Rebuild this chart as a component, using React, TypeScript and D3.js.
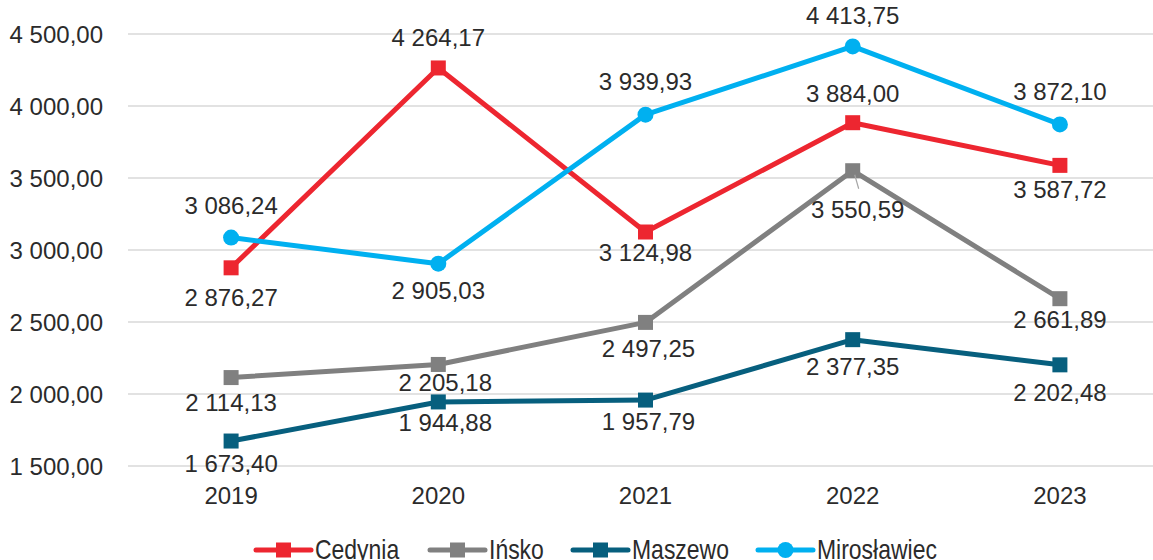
import React, { useEffect, useRef } from "react";
import * as d3 from "d3";

const categories = ["2019", "2020", "2021", "2022", "2023"];
const cedynia = [2876.27, 4264.17, 3124.98, 3884.0, 3587.72];
const insko = [2114.13, 2205.18, 2497.25, 3550.59, 2661.89];
const maszewo = [1673.4, 1944.88, 1957.79, 2377.35, 2202.48];
const miroslawiec = [3086.24, 2905.03, 3939.93, 4413.75, 3872.1];
const yTicks = [1500, 2000, 2500, 3000, 3500, 4000, 4500];
const seriesNames = ["Cedynia", "Ińsko", "Maszewo", "Mirosławiec"];

// label placement (baseline offset from point) per series
const cedyniaLabelDy = [38, -22, 29, -21, 33];
const inskoLabelDy = [33, 27, 35, 47, 29];
const maszewoLabelDy = [31, 29, 30, 35, 36];
const miroslawiecLabelDy = [-24, 35, -25, -22, -24];
const cedyniaLabelDx = [0, 0, 0, 0, 0];
const inskoLabelDx = [0, 7, 3, 5, 0];
const maszewoLabelDx = [0, 7, 3, 0, 0];
const miroslawiecLabelDx = [0, 0, 0, 0, 0];

const W = 1153;
const H = 560;

const fmt = (v: number) => {
  const s = v.toFixed(2);
  const [i, d] = s.split(".");
  return i.replace(/\B(?=(\d{3})+(?!\d))/g, " ") + "," + d;
};

export default function App() {
  const ref = useRef<SVGSVGElement>(null);

  useEffect(() => {
    const svg = d3.select(ref.current);
    svg.selectAll("*").remove();

    const x = d3.scaleBand().domain(categories).range([127.5, 127.5 + 5 * 207.2]);
    const y = d3.scaleLinear().domain([1500, 4500]).range([466, 34]);
    const cx = (c: string) => (x(c) as number) + x.bandwidth() / 2;

    const textColor = "#2b2b2b";
    const font = "'Liberation Sans', Arial, sans-serif";

    // gridlines
    svg
      .append("g")
      .selectAll("line")
      .data(yTicks)
      .join("line")
      .attr("x1", 128)
      .attr("x2", W)
      .attr("y1", (d) => y(d))
      .attr("y2", (d) => y(d))
      .attr("stroke", "#d9d9d9")
      .attr("stroke-width", 1.5);

    // y labels
    svg
      .append("g")
      .selectAll("text")
      .data(yTicks)
      .join("text")
      .attr("x", 103)
      .attr("y", (d) => y(d) + 8.5)
      .attr("text-anchor", "end")
      .attr("font-family", font)
      .attr("font-size", 24)
      .attr("fill", textColor)
      .text((d) => fmt(d));

    // x labels
    svg
      .append("g")
      .selectAll("text")
      .data(categories)
      .join("text")
      .attr("x", (d) => cx(d))
      .attr("y", 504)
      .attr("text-anchor", "middle")
      .attr("font-family", font)
      .attr("font-size", 24)
      .attr("fill", textColor)
      .text((d) => d);

    const series = [
      { name: seriesNames[0], values: cedynia, color: "#ED2630", marker: "square", dy: cedyniaLabelDy, dx: cedyniaLabelDx },
      { name: seriesNames[1], values: insko, color: "#808080", marker: "square", dy: inskoLabelDy, dx: inskoLabelDx },
      { name: seriesNames[2], values: maszewo, color: "#075F7E", marker: "square", dy: maszewoLabelDy, dx: maszewoLabelDx },
      { name: seriesNames[3], values: miroslawiec, color: "#00B0F0", marker: "circle", dy: miroslawiecLabelDy, dx: miroslawiecLabelDx },
    ];

    const line = d3
      .line<number>()
      .x((_, i) => cx(categories[i]))
      .y((d) => y(d));

    series.forEach((s) => {
      const g = svg.append("g");
      g.append("path")
        .attr("d", line(s.values) as string)
        .attr("fill", "none")
        .attr("stroke", s.color)
        .attr("stroke-width", 5)
        .attr("stroke-linejoin", "round");
      if (s.marker === "square") {
        g.selectAll("rect")
          .data(s.values)
          .join("rect")
          .attr("x", (_, i) => cx(categories[i]) - 7.5)
          .attr("y", (d) => y(d) - 7.5)
          .attr("width", 15)
          .attr("height", 15)
          .attr("fill", s.color);
      } else {
        g.selectAll("circle")
          .data(s.values)
          .join("circle")
          .attr("cx", (_, i) => cx(categories[i]))
          .attr("cy", (d) => y(d))
          .attr("r", 8)
          .attr("fill", s.color);
      }
    });

    // leader line for Ińsko 2022
    const li = 3;
    svg
      .append("line")
      .attr("x1", cx(categories[li]) + 2)
      .attr("y1", y(insko[li]) + 4)
      .attr("x2", cx(categories[li]) + 6)
      .attr("y2", y(insko[li]) + 18)
      .attr("stroke", "#a6a6a6")
      .attr("stroke-width", 1.2);

    // data labels
    series.forEach((s) => {
      svg
        .append("g")
        .selectAll("text")
        .data(s.values)
        .join("text")
        .attr("x", (_, i) => cx(categories[i]) + s.dx[i])
        .attr("y", (d, i) => y(d) + s.dy[i])
        .attr("text-anchor", "middle")
        .attr("font-family", font)
        .attr("font-size", 24)
        .attr("fill", textColor)
        .text((d) => fmt(d));
    });

    // legend
    const legendX = [256, 430, 573, 758];
    const leg = svg.append("g");
    series.forEach((s, i) => {
      const x0 = legendX[i];
      const g = leg.append("g");
      g.append("line")
        .attr("x1", x0)
        .attr("x2", x0 + 55)
        .attr("y1", 550)
        .attr("y2", 550)
        .attr("stroke", s.color)
        .attr("stroke-width", 5)
        .attr("stroke-linecap", "round");
      if (s.marker === "square") {
        g.append("rect")
          .attr("x", x0 + 27.5 - 7.5)
          .attr("y", 542.5)
          .attr("width", 15)
          .attr("height", 15)
          .attr("fill", s.color);
      } else {
        g.append("circle")
          .attr("cx", x0 + 27.5)
          .attr("cy", 550)
          .attr("r", 8)
          .attr("fill", s.color);
      }
      g.append("text")
        .attr("transform", `translate(${x0 + 59},559) scale(0.82,1)`)
        .attr("font-family", font)
        .attr("font-size", 28)
        .attr("fill", textColor)
        .text(s.name);
    });
  }, []);

  return (
    <svg
      ref={ref}
      width={W}
      height={H}
      style={{ position: "absolute", left: 0, top: 0, background: "#fff" }}
    />
  );
}
